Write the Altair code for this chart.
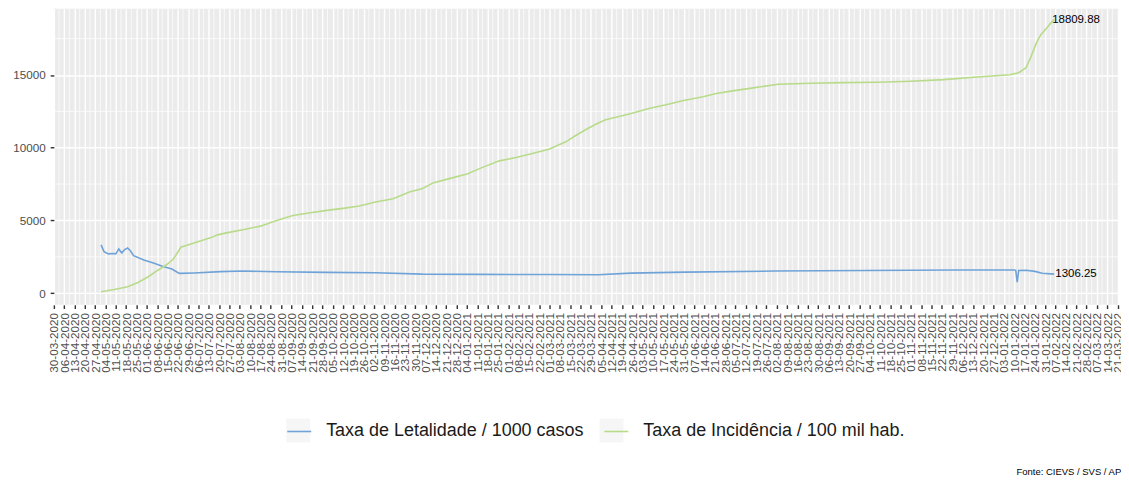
import altair as alt
import pandas as pd

# ---- data ----
series_names = ["Taxa de Letalidade / 1000 casos", "Taxa de Incidência / 100 mil hab."]
series_colors = ["#6FA3D8", "#B8DB8A"]

let_dates = ["2020-05-01", "2020-05-03", "2020-05-06", "2020-05-09", "2020-05-11", "2020-05-13",
             "2020-05-15", "2020-05-17", "2020-05-19", "2020-05-21", "2020-05-23", "2020-05-30",
             "2020-06-06", "2020-06-12", "2020-06-18", "2020-06-23", "2020-07-03", "2020-07-21",
             "2020-08-05", "2020-08-28", "2020-10-01", "2020-11-03", "2020-12-05", "2021-01-15",
             "2021-03-01", "2021-04-03", "2021-04-25", "2021-06-01", "2021-08-01", "2021-10-01",
             "2021-12-01", "2022-01-10", "2022-01-11", "2022-01-12", "2022-01-13", "2022-01-18",
             "2022-01-24", "2022-01-29", "2022-02-06"]
let_vals = [3318, 2857, 2700, 2730, 2700, 3040,
            2770, 3000, 3110, 2900, 2580, 2280,
            2050, 1840, 1660, 1360, 1390, 1480,
            1520, 1470, 1430, 1400, 1310, 1290,
            1280, 1270, 1380, 1450, 1520, 1560,
            1590, 1598, 1570, 760, 1560, 1580,
            1500, 1370, 1306.25]

inc_dates = ["2020-05-01", "2020-05-10", "2020-05-19", "2020-05-26", "2020-06-02", "2020-06-08",
             "2020-06-15", "2020-06-19", "2020-06-22", "2020-06-24", "2020-07-03", "2020-07-14",
             "2020-07-19", "2020-07-25", "2020-08-06", "2020-08-17", "2020-08-28", "2020-09-08",
             "2020-09-20", "2020-10-01", "2020-10-12", "2020-10-23", "2020-11-03", "2020-11-15",
             "2020-11-26", "2020-12-05", "2020-12-12", "2020-12-23", "2021-01-04", "2021-01-15",
             "2021-01-26", "2021-02-07", "2021-02-18", "2021-03-01", "2021-03-12", "2021-03-19",
             "2021-03-26", "2021-04-02", "2021-04-08", "2021-04-15", "2021-04-26", "2021-05-08",
             "2021-05-19", "2021-05-30", "2021-06-13", "2021-06-22", "2021-07-03", "2021-07-16",
             "2021-08-03", "2021-08-25", "2021-09-16", "2021-10-09", "2021-11-01", "2021-11-23",
             "2021-12-16", "2022-01-07", "2022-01-13", "2022-01-18", "2022-01-21", "2022-01-25",
             "2022-01-28", "2022-02-01", "2022-02-04", "2022-02-06"]
inc_vals = [92, 250, 438, 737, 1129, 1544,
            2004, 2350, 2811, 3156, 3456, 3802,
            4009, 4147, 4378, 4608, 5000, 5345,
            5530, 5691, 5829, 5990, 6267, 6497,
            6958, 7200, 7582, 7876, 8192, 8667,
            9096, 9345, 9616, 9910, 10407, 10859,
            11266, 11650, 11921, 12102, 12373, 12712,
            12961, 13232, 13503, 13729, 13910, 14100,
            14364, 14432, 14477, 14500, 14568, 14682,
            14864, 15023, 15159, 15500, 16182, 17205,
            17773, 18228, 18600, 18809.88]

end_labels = ["1306.25", "18809.88"]

x_start, x_end = "2020-03-30", "2022-03-21"
y_breaks = [0, 5000, 10000, 15000]
y_minor = [2500, 7500, 12500, 17500]
caption = "Fonte: CIEVS / SVS / AP"

# ---- tables ----
ZW = "\u200b"  # suffix so the key-background legend stays a separate legend
key_names = [s + ZW for s in series_names]

df = pd.concat([
    pd.DataFrame({"date": let_dates, "value": let_vals, "serie": series_names[0]}),
    pd.DataFrame({"date": inc_dates, "value": inc_vals, "serie": series_names[1]}),
], ignore_index=True)
df["key"] = df["serie"] + ZW

last = pd.DataFrame({
    "date": [let_dates[-1], inc_dates[-1]],
    "value": [let_vals[-1], inc_vals[-1]],
    "label": end_labels,
})

week_breaks = pd.date_range(x_start, x_end, freq="7D")
x_values = [alt.DateTime(year=d.year, month=d.month, date=d.day, utc=True) for d in week_breaks]
minor_x = pd.DataFrame({"date": [(d + pd.Timedelta(hours=84)).strftime("%Y-%m-%dT%H:%M:%SZ")
                                 for d in week_breaks[:-1]]})
minor_y = pd.DataFrame({"v": y_minor})

FONT = "Liberation Sans"
GRID_W = 1.42
LEG_FONT = 18
KEY = 24
LAB_OFF = 14
COL_PAD = 16

xscale = alt.Scale(type="utc",
                   domain=[alt.DateTime(year=2020, month=3, date=30, utc=True),
                           alt.DateTime(year=2022, month=3, date=22, utc=True)])
yscale = alt.Scale(domain=[-802, 19564], nice=False, zero=False)

x_axis = alt.Axis(values=x_values, format="%d-%m-%Y", labelAngle=270, labelOverlap=False,
                  labelFlush=False, labelBound=False, labelFontSize=11.7, labelColor="#4D4D4D",
                  labelFont=FONT, labelPadding=4, tickColor="#333333", tickWidth=GRID_W,
                  tickSize=3.7, domain=False, grid=True, gridColor="white", gridWidth=GRID_W,
                  title=None)
y_axis = alt.Axis(values=y_breaks, format="d", labelFontSize=11.7, labelColor="#4D4D4D",
                  labelFont=FONT, labelPadding=5, tickColor="#333333", tickWidth=GRID_W,
                  tickSize=3.7, domain=False, grid=True, gridColor="white", gridWidth=GRID_W,
                  title=None)

X = lambda: alt.X("date:T", scale=xscale, axis=x_axis)
Y = lambda: alt.Y("value:Q", scale=yscale, axis=y_axis)

minor_x_layer = alt.Chart(minor_x).mark_rule(color="white", strokeWidth=0.71).encode(x=X())
minor_y_layer = alt.Chart(minor_y).mark_rule(color="white", strokeWidth=0.71).encode(
    y=alt.Y("v:Q", scale=yscale, axis=y_axis)
)

legend_common = dict(orient="none", legendX=233, legendY=411, direction="horizontal",
                     title=None, labelFontSize=LEG_FONT, labelFont=FONT, labelColor="#1A1A1A",
                     labelLimit=500, symbolSize=KEY * KEY, labelOffset=LAB_OFF, padding=0)

# width of the first legend label, used to place the second grey key under the second line key
first_label_w = 14.453 * LEG_FONT

key_layer = alt.Chart(df).transform_filter("false").mark_square().encode(
    x=X(), y=Y(),
    fill=alt.Fill("key:N",
                  scale=alt.Scale(domain=key_names, range=["#F2F2F2", "#F2F2F2"]),
                  legend=alt.Legend(symbolType="square", symbolStrokeWidth=0,
                                    labelExpr="''", columnPadding=first_label_w + COL_PAD,
                                    **legend_common)),
)

lines = alt.Chart(df).mark_line(strokeWidth=1.6).encode(
    x=X(), y=Y(),
    stroke=alt.Stroke("serie:N", scale=alt.Scale(domain=series_names, range=series_colors),
                      legend=alt.Legend(symbolType="stroke", symbolStrokeWidth=1.6,
                                        columnPadding=COL_PAD, **legend_common)),
    order="date:T",
)

labels = alt.Chart(last).mark_text(font=FONT, fontSize=11.5, color="black", align="center",
                                   baseline="middle", dx=22).encode(
    x=X(), y=Y(), text="label:N",
)

chart = alt.layer(minor_x_layer, minor_y_layer, key_layer, lines, labels).properties(
    width=1068, height=297,
    padding={"left": 46, "top": 0, "right": 2, "bottom": 172},
    autosize=alt.AutoSizeParams(type="none"),
    title=alt.TitleParams(caption, orient="bottom", anchor="end", fontSize=9.5,
                          font=FONT, fontWeight="normal", color="black", offset=25, dx=-3),
).configure(background="white").configure_view(fill="#EBEBEB", strokeWidth=0)

chart.save("out.html", embed_options={"renderer": "svg", "actions": False})
